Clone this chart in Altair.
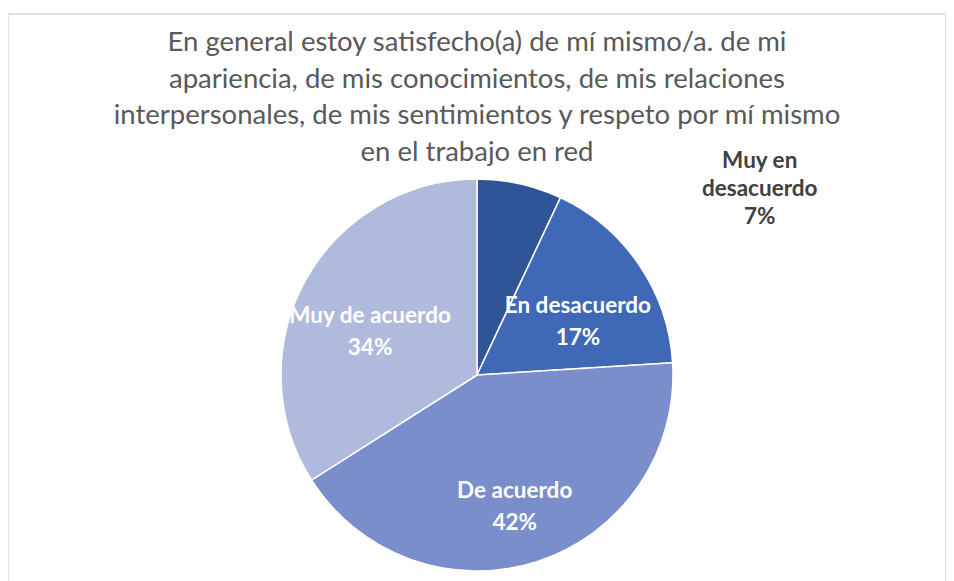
import altair as alt
import pandas as pd

# Data
categories = ["Muy en desacuerdo", "En desacuerdo", "De acuerdo", "Muy de acuerdo"]
label_lines = ["Muy en\ndesacuerdo", "En desacuerdo", "De acuerdo", "Muy de acuerdo"]
values = [7, 17, 42, 34]
colors = ["#2F5597", "#3F68B7", "#7A8ECB", "#B0BADD"]

title_lines = [
    "En general estoy satisfecho(a) de mí mismo/a. de mi",
    "apariencia, de mis conocimientos, de mis relaciones",
    "interpersonales, de mis sentimientos y respeto por mí mismo",
    "en el trabajo en red",
]

df = pd.DataFrame({
    "cat": categories,
    "label": label_lines,
    "value": values,
    "idx": list(range(len(categories))),
})

base = alt.Chart(df).encode(
    theta=alt.Theta("value:Q", stack=True),
    order=alt.Order("idx:Q", sort="ascending"),
)

# chart frame (light grey border around the whole chart area)
frame = alt.Chart(df).transform_aggregate(n="count()").mark_rect(
    fill=None, stroke="#D9D9D9", strokeWidth=1.5
).encode(
    x=alt.value(0), x2=alt.value("width"), y=alt.value(0), y2=alt.value("height")
)

arcs = base.mark_arc(outerRadius=196, stroke="white", strokeWidth=1.5).encode(
    color=alt.Color("cat:N", scale=alt.Scale(domain=categories, range=colors), legend=None)
)

inside = base.transform_calculate(
    txt="datum.idx == 0 ? '' : datum.label + '\\n' + datum.value + '%'"
).mark_text(
    radius=122, lineBreak="\n", font="Lato", fontSize=22.5, fontWeight="bold",
    color="white", lineHeight=32
).encode(text="txt:N")

outside = base.transform_calculate(
    txt="datum.idx == 0 ? datum.label + '\\n' + datum.value + '%' : ''"
).mark_text(
    radius=205, dx=238, dy=-14, lineBreak="\n", font="Lato", fontSize=22.5,
    fontWeight="bold", color="#404040", lineHeight=28
).encode(text="txt:N")

chart = alt.layer(frame, arcs, inside, outside).properties(
    width=938,
    height=722,
    title=alt.Title(
        title_lines, fontSize=27.5, font="Lato", color="#595959", fontWeight="normal",
        lineHeight=36.5, offset=-153, anchor="middle"
    ),
    padding={"left": 0, "top": 6, "right": 0, "bottom": 0},
    autosize="none",
).configure_view(stroke=None)

chart.save("out.html", embed_options={"renderer": "svg", "actions": False})
